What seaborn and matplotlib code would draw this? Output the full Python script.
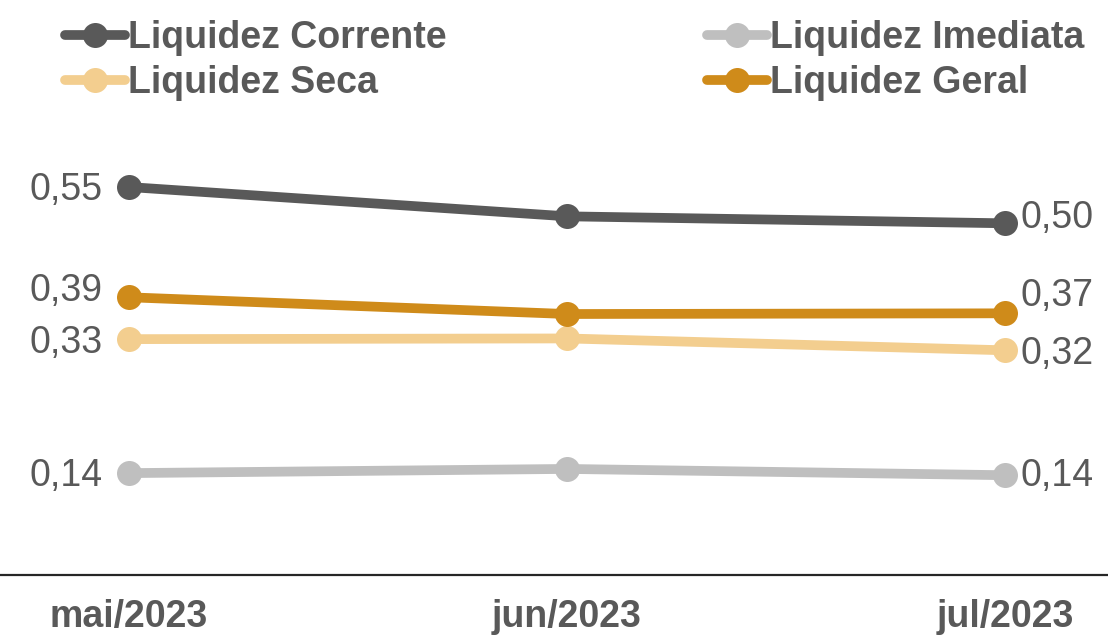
import numpy as np
import pandas as pd
import matplotlib
matplotlib.use('Agg')
import matplotlib.pyplot as plt
import seaborn as sns

# data
months = ["mai/2023", "jun/2023", "jul/2023"]
corrente = [0.55, 0.508, 0.498]
seca = [0.332, 0.333, 0.316]
imediata = [0.14, 0.146, 0.137]
geral = [0.392, 0.368, 0.369]

series_names = ["Liquidez Corrente", "Liquidez Seca", "Liquidez Imediata", "Liquidez Geral"]
series_values = [corrente, seca, imediata, geral]
colors = ["#595959", "#F3CE8F", "#BFBFBF", "#CF8B1A"]

rows = []
for name, vals in zip(series_names, series_values):
    for i, v in enumerate(vals):
        rows.append({"mes": i, "serie": name, "valor": v})
df = pd.DataFrame(rows)

sns.set_theme(style="white")
plt.rcParams['font.family'] = ['Liberation Sans', 'DejaVu Sans']
txt_color = "#595959"

fig = plt.figure(figsize=(11.08, 6.36), dpi=100)
ax = fig.add_axes([0, 1 - 575 / 636, 1, 575 / 636])

sns.lineplot(data=df, x="mes", y="valor", hue="serie", hue_order=series_names,
             palette=colors, marker="o", markersize=18, linewidth=7,
             markeredgewidth=0, ax=ax, legend=True)

ax.set_xlim(-0.294, 2.235)
ax.set_ylim(-0.006, 0.818)

# data labels (left for first month, right for last month)
# pixel nudges (negative = up) to avoid overlap, order as series_names
left_dy = [3, 4, 3, -6]
right_dy = [-5, 4, 1, -17]
for name, vals, ldy, rdy in zip(series_names, series_values, left_dy, right_dy):
    ax.annotate(f"{vals[0]:.2f}".replace(".", ","), (0, vals[0]),
                xytext=(-19, -ldy * 0.72), textcoords="offset points",
                ha="right", va="center", fontsize=27, color=txt_color)
    ax.annotate(f"{vals[-1]:.2f}".replace(".", ","), (2, vals[-1]),
                xytext=(11, -rdy * 0.72), textcoords="offset points",
                ha="left", va="center", fontsize=27, color=txt_color)

ax.set_xticks(range(len(months)))
ax.set_xticklabels(months, fontsize=27, fontweight="bold", color=txt_color)
ax.tick_params(axis="x", length=0, pad=17)
ax.set_yticks([])
ax.set_xlabel("")
ax.set_ylabel("")
for s in ["top", "left", "right"]:
    ax.spines[s].set_visible(False)
ax.spines["bottom"].set_color("#262626")
ax.spines["bottom"].set_linewidth(1.6)

handles, labels = ax.get_legend_handles_labels()
ax.legend_.remove()
leg = fig.legend(handles, labels, ncol=2, loc="upper left",
                 bbox_to_anchor=(65 / 1108, 1 - 20 / 636), frameon=False,
                 borderpad=0, borderaxespad=0, handlelength=1.6,
                 handletextpad=0.08, columnspacing=6.95, labelspacing=0.25,
                 prop={"size": 27, "weight": "bold"})
for t in leg.get_texts():
    t.set_color(txt_color)

fig.savefig("out.png", dpi=100)
